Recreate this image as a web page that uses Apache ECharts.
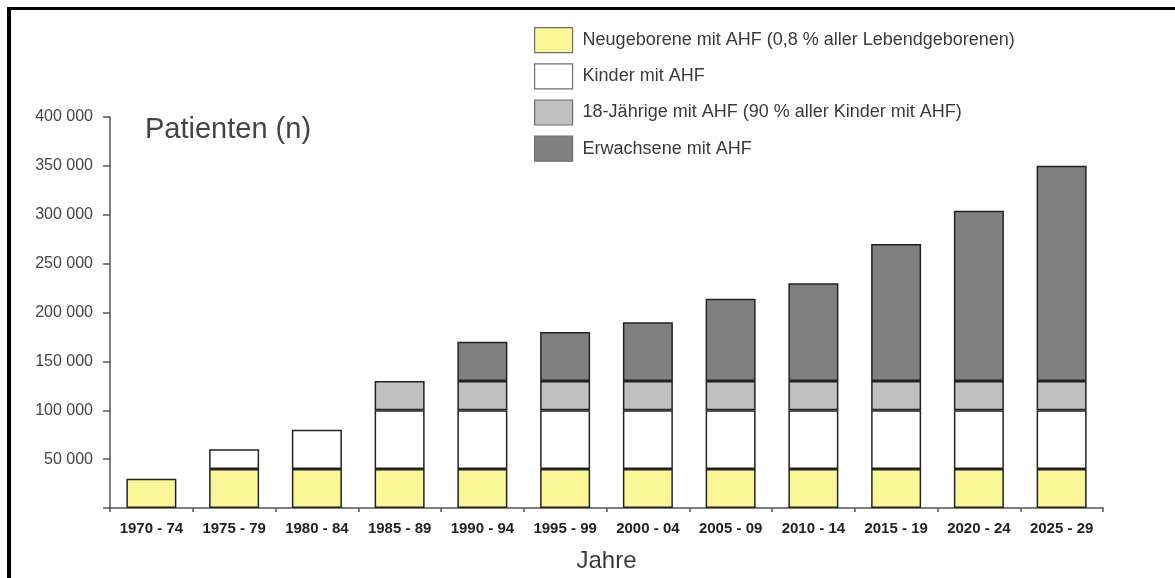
<!DOCTYPE html>
<html>
<head>
<meta charset="utf-8">
<script src="https://cdn.jsdelivr.net/npm/echarts@6/dist/echarts.min.js"></script>
<style>
  html, body { margin: 0; padding: 0; background: #fff; }
  #chart { width: 1175px; height: 578px; }
</style>
</head>
<body>
<div id="chart"></div>
<script>
// Zeitraume (Jahresgruppen)
var categories = ['1970 - 74', '1975 - 79', '1980 - 84', '1985 - 89', '1990 - 94', '1995 - 99',
                  '2000 - 04', '2005 - 09', '2010 - 14', '2015 - 19', '2020 - 24', '2025 - 29'];

// Patientenzahlen je Gruppe (gestapelt)
var neugeborene = [30000, 40000, 40000, 40000, 40000, 40000, 40000, 40000, 40000, 40000, 40000, 40000];
var kinder      = [null, 20000, 40000, 60000, 60000, 60000, 60000, 60000, 60000, 60000, 60000, 60000];
var achtzehn    = [null, null, null, 30000, 30000, 30000, 30000, 30000, 30000, 30000, 30000, 30000];
var erwachsene  = [null, null, null, null, 40000, 50000, 60000, 84000, 100000, 140000, 174000, 220000];

var seriesNames = [
  'Neugeborene mit AHF (0,8 % aller Lebendgeborenen)',
  'Kinder mit AHF',
  '18-Jährige mit AHF (90 % aller Kinder mit AHF)',
  'Erwachsene mit AHF'
];

var yTicks = [0, 50000, 100000, 150000, 200000, 250000, 300000, 350000, 400000];

var fills = ['#fbf799', '#ffffff', '#c0c0c0', '#808080'];
var valueSets = [neugeborene, kinder, achtzehn, erwachsene];

function fmt(v) {
  if (v === 0) return '';
  var s = String(v);
  return s.slice(0, s.length - 3) + ' ' + s.slice(-3);
}

var chart = echarts.init(document.getElementById('chart'), null, { renderer: 'canvas' });

var series = valueSets.map(function (vals, i) {
  return {
    name: seriesNames[i],
    type: 'bar',
    stack: 'total',
    barWidth: 50,
    data: vals,
    itemStyle: { color: fills[i], borderColor: '#222', borderWidth: 1.5 },
    emphasis: { disabled: true }
  };
});

chart.setOption({
  animation: false,
  backgroundColor: '#ffffff',
  title: {
    text: 'Patienten (n)',
    left: 140,
    top: 110,
    textStyle: { fontFamily: 'Liberation Sans, Arial, sans-serif', fontSize: 29, fontWeight: 'normal', color: '#454545' }
  },
  legend: {
    orient: 'vertical',
    left: 529,
    top: 22,
    itemWidth: 38,
    itemHeight: 25,
    itemGap: 10,
    icon: 'rect',
    selectedMode: false,
    data: seriesNames.map(function (n, i) {
      return { name: n, itemStyle: { color: fills[i], borderColor: '#6e6e6e', borderWidth: 1.2 } };
    }),
    textStyle: {
      fontFamily: 'Liberation Sans, Arial, sans-serif',
      fontSize: 18,
      color: '#3a3a3a',
      padding: [0, 0, 0, 5]
    }
  },
  grid: { left: 110, right: 72, top: 117, bottom: 69, containLabel: false },
  xAxis: {
    type: 'category',
    data: categories,
    name: 'Jahre',
    nameLocation: 'middle',
    nameGap: 41,
    nameTextStyle: { fontFamily: 'Liberation Sans, Arial, sans-serif', fontSize: 24, color: '#3a3a3a' },
    axisLine: { lineStyle: { color: '#555', width: 1.5 } },
    axisTick: { show: true, length: 4, lineStyle: { color: '#555', width: 1.5 } },
    axisLabel: {
      interval: 0,
      margin: 13,
      fontFamily: 'Liberation Sans, Arial, sans-serif',
      fontSize: 15,
      fontWeight: 'bold',
      color: '#222'
    }
  },
  yAxis: {
    type: 'value',
    min: yTicks[0],
    max: yTicks[yTicks.length - 1],
    interval: yTicks[1] - yTicks[0],
    splitLine: { show: false },
    axisLine: { show: true, lineStyle: { color: '#555', width: 1.5 } },
    axisTick: { show: true, length: 7, lineStyle: { color: '#555', width: 1.5 } },
    axisLabel: {
      margin: 17,
      fontFamily: 'Liberation Sans, Arial, sans-serif',
      fontSize: 16,
      color: '#444',
      formatter: fmt
    }
  },
  graphic: [
    { type: 'rect', shape: { x: 7, y: 7, width: 4, height: 571 }, style: { fill: '#000' }, silent: true },
    { type: 'rect', shape: { x: 7, y: 7, width: 1168, height: 3 }, style: { fill: '#000' }, silent: true }
  ],
  series: series
});
</script>
</body>
</html>
